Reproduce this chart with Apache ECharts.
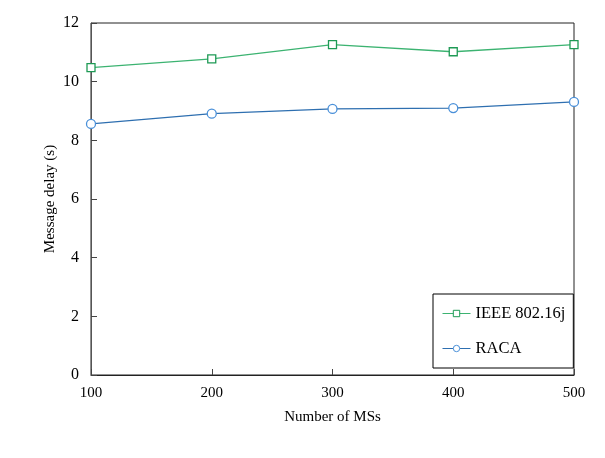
<!DOCTYPE html>
<html><head><meta charset="utf-8">
<script src="https://cdn.jsdelivr.net/npm/echarts@6/dist/echarts.min.js"></script>
<style>html,body{margin:0;padding:0;background:#fff}#c{width:605px;height:458px}</style>
</head><body><div id="c"></div>
<script>
const msCounts = [100, 200, 300, 400, 500];
const ieeeDelay = [10.48, 10.78, 11.26, 11.02, 11.26];
const racaDelay = [8.56, 8.91, 9.07, 9.10, 9.31];
const yTicks = [0, 2, 4, 6, 8, 10, 12];

const font = 'Liberation Serif';
const chart = echarts.init(document.getElementById('c'), null, {renderer: 'canvas'});
chart.setOption({
  backgroundColor: '#fff',
  animation: false,
  textStyle: {fontFamily: font},
  grid: {left: 91, right: 31, top: 23, bottom: 83, show: true, borderColor: '#222', borderWidth: 1},
  legend: {
    orient: 'vertical', left: 433, top: 294,
    padding: [11, 8, 11, 9], itemGap: 18, itemWidth: 28, itemHeight: 8,
    borderColor: '#000', borderWidth: 1, backgroundColor: '#fff',
    textStyle: {fontFamily: font, fontSize: 16.5, color: '#000'},
    data: [
      {name: 'IEEE 802.16j', itemStyle: {borderWidth: 1}, lineStyle: {width: 1}},
      {name: 'RACA', itemStyle: {borderWidth: 1}, lineStyle: {width: 1}}
    ]
  },
  xAxis: {
    type: 'value', min: 100, max: 500, interval: 100,
    name: 'Number of MSs', nameLocation: 'middle', nameGap: 35, nameMoveOverlap: false,
    nameTextStyle: {fontFamily: font, fontSize: 15, color: '#000'},
    axisLine: {lineStyle: {color: '#222'}},
    axisTick: {inside: true, length: 6, lineStyle: {color: '#444'}},
    axisLabel: {fontFamily: font, fontSize: 15, color: '#000', margin: 11},
    splitLine: {show: false}
  },
  yAxis: {
    type: 'value', min: yTicks[0], max: yTicks[yTicks.length - 1], interval: 2,
    name: 'Message delay (s)', nameLocation: 'middle', nameGap: 33, nameMoveOverlap: false,
    nameTextStyle: {fontFamily: font, fontSize: 15, color: '#000'},
    axisLine: {show: true, lineStyle: {color: '#555'}},
    axisTick: {show: true, inside: true, length: 6, lineStyle: {color: '#444'}},
    axisLabel: {fontFamily: font, fontSize: 16, color: '#000', margin: 12},
    splitLine: {show: false}
  },
  series: [
    {
      name: 'IEEE 802.16j', type: 'line',
      data: msCounts.map((x, i) => [x, ieeeDelay[i]]),
      symbol: 'rect', symbolSize: 8,
      lineStyle: {color: '#3cb371', width: 1.3},
      itemStyle: {color: '#fff', borderColor: '#1e9a55', borderWidth: 1.3}
    },
    {
      name: 'RACA', type: 'line',
      data: msCounts.map((x, i) => [x, racaDelay[i]]),
      symbol: 'circle', symbolSize: 9,
      lineStyle: {color: '#2e6fb0', width: 1.3},
      itemStyle: {color: '#fff', borderColor: '#4a90d9', borderWidth: 1.3}
    }
  ]
});
</script></body></html>
